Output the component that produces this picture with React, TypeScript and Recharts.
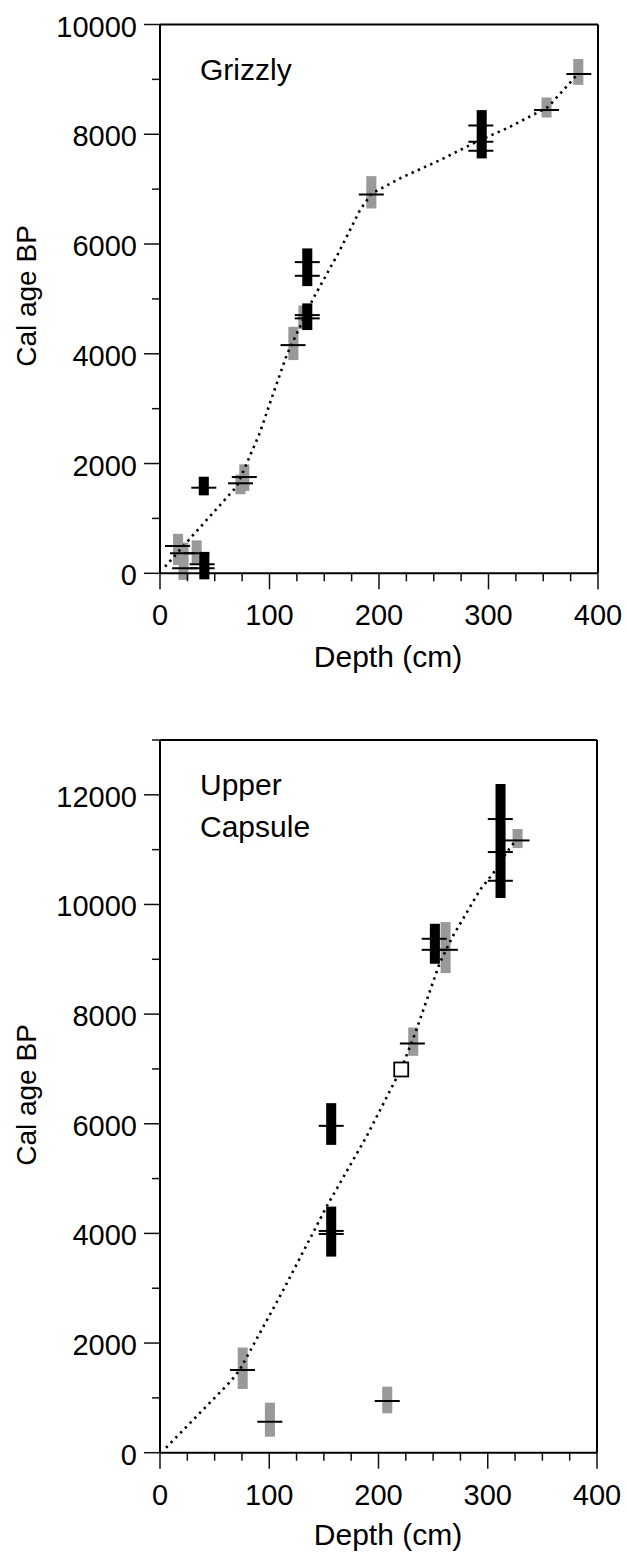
import React from 'react';
import { ComposedChart, XAxis, YAxis, Scatter, Line, ReferenceArea, ReferenceLine } from 'recharts';

const FONT = '"Liberation Sans", Arial, Helvetica, sans-serif';

// ---- axis ticks ----
const DEPTH_TICKS = [0, 25, 50, 75, 100, 125, 150, 175, 200, 225, 250, 275, 300, 325, 350, 375, 400];
const DEPTH_LABELS = [0, 100, 200, 300, 400];
const GRIZZLY_AGE_TICKS = [0, 1000, 2000, 3000, 4000, 5000, 6000, 7000, 8000, 9000, 10000];
const GRIZZLY_AGE_LABELS = [0, 2000, 4000, 6000, 8000, 10000];
const CAPSULE_AGE_TICKS = [0, 1000, 2000, 3000, 4000, 5000, 6000, 7000, 8000, 9000, 10000, 11000, 12000, 13000];
const CAPSULE_AGE_LABELS = [0, 2000, 4000, 6000, 8000, 10000, 12000];

// ---- Grizzly ----
const grizzlyGray = [
  { depth: 16.5, lo: 150, hi: 720 },
  { depth: 21.5, lo: -120, hi: 560 },
  { depth: 33.5, lo: 180, hi: 600 },
  { depth: 73.5, lo: 1440, hi: 1800 },
  { depth: 77, lo: 1500, hi: 1985 },
  { depth: 121.8, lo: 3885, hi: 4492 },
  { depth: 131, lo: 4450, hi: 4880 },
  { depth: 193, lo: 6648, hi: 7237 },
  { depth: 353, lo: 8305, hi: 8670 },
  { depth: 382, lo: 8900, hi: 9370 },
];
const grizzlyBlack = [
  { depth: 40.5, lo: -110, hi: 390 },
  { depth: 40, lo: 1420, hi: 1760 },
  { depth: 134.5, lo: 4432, hi: 4918 },
  { depth: 134.5, lo: 5233, hi: 5920 },
  { depth: 293.8, lo: 7560, hi: 8440 },
];
const grizzlyMarks = [
  { depth: 16, age: 497 },
  { depth: 20.5, age: 364 },
  { depth: 33.5, age: 364 },
  { depth: 38.5, age: 164 },
  { depth: 22.5, age: 91 },
  { depth: 38.5, age: 91 },
  { depth: 40, age: 1560 },
  { depth: 73.5, age: 1640 },
  { depth: 77, age: 1754 },
  { depth: 121.5, age: 4158 },
  { depth: 134.5, age: 4645 },
  { depth: 134.5, age: 4705 },
  { depth: 134.5, age: 5421 },
  { depth: 134.5, age: 5670 },
  { depth: 193, age: 6903 },
  { depth: 293, age: 7698 },
  { depth: 293, age: 7862 },
  { depth: 293, age: 8160 },
  { depth: 353, age: 8440 },
  { depth: 382.5, age: 9100 },
];
const grizzlyModel = [
  { depth: 4.6, age: 120 },
  { depth: 33.5, age: 770 },
  { depth: 70, age: 1580 },
  { depth: 91, age: 2550 },
  { depth: 103.5, age: 3280 },
  { depth: 115.7, age: 3976 },
  { depth: 120, age: 4160 },
  { depth: 140, age: 5010 },
  { depth: 162.8, age: 5830 },
  { depth: 182.6, age: 6617 },
  { depth: 193.3, age: 6922 },
  { depth: 222, age: 7224 },
  { depth: 255.7, age: 7528 },
  { depth: 289, age: 7862 },
  { depth: 319.6, age: 8135 },
  { depth: 354.6, age: 8499 },
  { depth: 382, age: 9107 },
];

// ---- Upper Capsule ----
const capsuleGray = [
  { depth: 75.7, lo: 1162, hi: 1918 },
  { depth: 100.6, lo: 292, hi: 912 },
  { depth: 208, lo: 719, hi: 1204 },
  { depth: 231.8, lo: 7239, hi: 7755 },
  { depth: 261.4, lo: 8748, hi: 9679 },
  { depth: 327.3, lo: 11029, hi: 11376 },
];
const capsuleBlack = [
  { depth: 156.7, lo: 3577, hi: 4489 },
  { depth: 156.7, lo: 5615, hi: 6376 },
  { depth: 251.6, lo: 8918, hi: 9648 },
  { depth: 311.7, lo: 10117, hi: 12197 },
];
const capsuleMarks = [
  { depth: 75.5, age: 1509 },
  { depth: 100.5, age: 566 },
  { depth: 208, age: 943 },
  { depth: 156.7, age: 3990 },
  { depth: 156.7, age: 4045 },
  { depth: 156.7, age: 5962 },
  { depth: 231, age: 7464 },
  { depth: 251, age: 9374 },
  { depth: 251, age: 9173 },
  { depth: 261.2, age: 9173 },
  { depth: 311.5, age: 10432 },
  { depth: 311.5, age: 10956 },
  { depth: 311.5, age: 11558 },
  { depth: 326.8, age: 11168 },
];
const capsuleOpen = [{ depth: 220.8, age: 6990 }];
const capsuleModel = [
  { depth: 5.5, age: 90 },
  { depth: 64.4, age: 1296 },
  { depth: 73, age: 1510 },
  { depth: 112.8, age: 2965 },
  { depth: 152.5, age: 4490 },
  { depth: 189, age: 5766 },
  { depth: 221, age: 7010 },
  { depth: 233, age: 7620 },
  { depth: 256, age: 8930 },
  { depth: 268, age: 9420 },
  { depth: 293, age: 10270 },
  { depth: 305, age: 10570 },
  { depth: 317, age: 10940 },
  { depth: 326, age: 11180 },
];

const RECT_HALF = 4.6; // cm

const makeXTick = (labels: number[]) => (props: any) => {
  const { x, y, payload } = props;
  const v = payload.value;
  const major = labels.includes(v);
  return (
    <g>
      <line x1={x} x2={x} y1={y} y2={y + (major ? 16 : 8)} stroke="#111" strokeWidth={1.5} />
      {major && (
        <text x={x} y={y + 52} textAnchor="middle" fontSize={29} fontFamily={FONT} fill="#000">
          {v}
        </text>
      )}
    </g>
  );
};

const makeYTick = (labels: number[]) => (props: any) => {
  const { x, y, payload } = props;
  const v = payload.value;
  const major = labels.includes(v);
  return (
    <g>
      <line x1={x - (major ? 16 : 8)} x2={x} y1={y} y2={y} stroke="#111" strokeWidth={1.5} />
      {major && (
        <text x={x - 23} y={y + 12} textAnchor="end" fontSize={29} fontFamily={FONT} fill="#000">
          {v}
        </text>
      )}
    </g>
  );
};

const MarkShape = (props: any) => {
  const { cx, cy } = props;
  return <line x1={cx - 12.5} x2={cx + 12.5} y1={cy} y2={cy} stroke="#000" strokeWidth={2} />;
};

const OpenSquare = (props: any) => {
  const { cx, cy } = props;
  return <rect x={cx - 7} y={cy - 7} width={14} height={14} fill="#fff" stroke="#000" strokeWidth={1.8} />;
};

type Range = { depth: number; lo: number; hi: number };
type Pt = { depth: number; age: number };

type PanelProps = {
  height: number;
  margin: { top: number; right: number; bottom: number; left: number };
  yMax: number;
  yTicks: number[];
  yLabels: number[];
  gray: Range[];
  black: Range[];
  marks: Pt[];
  model: Pt[];
  open?: Pt[];
  title: string[];
  titleBaseline: number;
  yTitleCenter: number;
  xTitleBaseline: number;
};

function Panel(p: PanelProps) {
  return (
    <div style={{ position: 'relative', width: 627, height: p.height }}>
      <ComposedChart width={627} height={p.height} margin={p.margin}>
        <XAxis
          type="number"
          dataKey="depth"
          domain={[0, 400]}
          allowDataOverflow
          ticks={DEPTH_TICKS}
          interval={0}
          height={30}
          tickSize={0}
          tickMargin={0}
          tickLine={false}
          axisLine={{ stroke: '#000', strokeWidth: 2 }}
          tick={makeXTick(DEPTH_LABELS)}
        />
        <YAxis
          type="number"
          dataKey="age"
          domain={[0, p.yMax]}
          allowDataOverflow
          ticks={p.yTicks}
          interval={0}
          width={60}
          tickSize={0}
          tickMargin={0}
          tickLine={false}
          axisLine={{ stroke: '#000', strokeWidth: 2 }}
          tick={makeYTick(p.yLabels)}
        />
        <ReferenceLine y={p.yMax} stroke="#000" strokeWidth={2} />
        <ReferenceLine x={400} stroke="#000" strokeWidth={2} />
        {p.gray.map((r, i) => (
          <ReferenceArea
            key={'g' + i}
            x1={r.depth - RECT_HALF}
            x2={r.depth + RECT_HALF}
            y1={r.lo}
            y2={r.hi}
            fill="#999999"
            fillOpacity={1}
            stroke="none"
            ifOverflow="visible"
          />
        ))}
        {p.black.map((r, i) => (
          <ReferenceArea
            key={'b' + i}
            x1={r.depth - RECT_HALF}
            x2={r.depth + RECT_HALF}
            y1={r.lo}
            y2={r.hi}
            fill="#000000"
            fillOpacity={1}
            stroke="none"
            ifOverflow="visible"
          />
        ))}
        <Line
          data={p.model}
          dataKey="age"
          type="linear"
          stroke="#000"
          strokeWidth={2.6}
          strokeDasharray="2.4 4.4"
          dot={false}
          activeDot={false}
          isAnimationActive={false}
        />
        <Scatter data={p.marks} dataKey="age" shape={MarkShape} isAnimationActive={false} />
        {p.open && <Scatter data={p.open} dataKey="age" shape={OpenSquare} isAnimationActive={false} />}
      </ComposedChart>
      <svg
        width={627}
        height={p.height}
        style={{ position: 'absolute', left: 0, top: 0, pointerEvents: 'none' }}
      >
        {p.title.map((t, i) => (
          <text key={i} x={200} y={p.titleBaseline + i * 42} fontSize={30} fontFamily={FONT} fill="#000">
            {t}
          </text>
        ))}
        <text
          transform={`translate(36, ${p.yTitleCenter}) rotate(-90)`}
          textAnchor="middle"
          fontSize={28}
          fontFamily={FONT}
          fill="#000"
        >
          Cal age BP
        </text>
        <text x={388} y={p.xTitleBaseline} textAnchor="middle" fontSize={30} fontFamily={FONT} fill="#000">
          Depth (cm)
        </text>
      </svg>
    </div>
  );
}

export default function App() {
  return (
    <div style={{ position: 'absolute', left: 0, top: 0, width: 627, height: 1553, background: '#fff' }}>
      <Panel
        height={700}
        margin={{ top: 24.5, right: 29, bottom: 96.7, left: 100 }}
        yMax={10000}
        yTicks={GRIZZLY_AGE_TICKS}
        yLabels={GRIZZLY_AGE_LABELS}
        gray={grizzlyGray}
        black={grizzlyBlack}
        marks={grizzlyMarks}
        model={grizzlyModel}
        title={['Grizzly']}
        titleBaseline={80}
        yTitleCenter={296}
        xTitleBaseline={667}
      />
      <Panel
        height={853}
        margin={{ top: 40, right: 30, bottom: 70.3, left: 100 }}
        yMax={13000}
        yTicks={CAPSULE_AGE_TICKS}
        yLabels={CAPSULE_AGE_LABELS}
        gray={capsuleGray}
        black={capsuleBlack}
        marks={capsuleMarks}
        model={capsuleModel}
        open={capsuleOpen}
        title={['Upper', 'Capsule']}
        titleBaseline={95}
        yTitleCenter={395}
        xTitleBaseline={845}
      />
    </div>
  );
}
